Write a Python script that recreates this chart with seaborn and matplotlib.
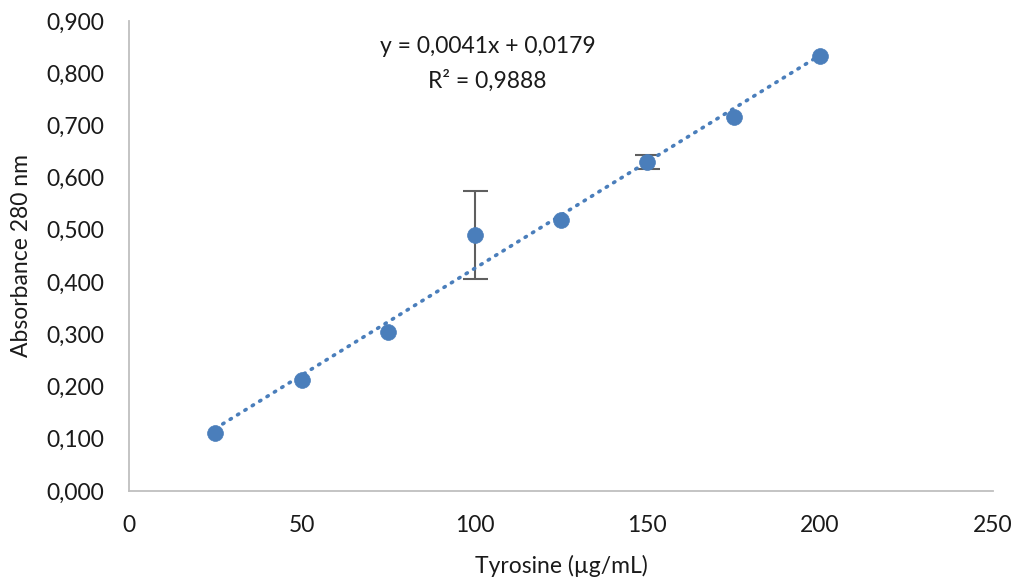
import matplotlib
matplotlib.use("Agg")
import matplotlib.pyplot as plt
import seaborn as sns
import pandas as pd
from matplotlib.ticker import FuncFormatter, MultipleLocator

# Data
tyrosine = [25, 50, 75, 100, 125, 150, 175, 200]
absorbance = [0.111, 0.2126, 0.3045, 0.490, 0.519, 0.630, 0.716, 0.833]
errors = [0.0, 0.0, 0.0, 0.085, 0.0, 0.013, 0.0, 0.0]
equation_text = "y = 0,0041x + 0,0179"
r2_text = "R² = 0,9888"

df = pd.DataFrame({"x": tyrosine, "y": absorbance, "err": errors})

sns.set_theme(style="white")
plt.rcParams['font.family'] = ['Lato', 'DejaVu Sans']

blue = "#4a7ebb"
fs = 16.5
fig = plt.figure(figsize=(10.14, 5.81), dpi=100)
ax = fig.add_axes([0.1272, 0.155, 0.852, 0.809])

# error bars (behind markers), only where there is an error
eb = df[df["err"] > 0]
ax.errorbar(eb["x"], eb["y"], yerr=eb["err"], fmt="none", ecolor="#5f5f5f",
            elinewidth=1.5, capsize=9, capthick=1.5, zorder=2)

# trendline
sns.regplot(data=df, x="x", y="y", ax=ax, scatter=False, ci=None,
            line_kws=dict(color=blue, lw=2.6, ls=(0, (0.4, 2.0)),
                          dash_capstyle="round", zorder=3))

# points
sns.scatterplot(data=df, x="x", y="y", ax=ax, color=blue, s=130,
                edgecolor=blue, linewidth=0.5, zorder=4)

ax.set_xlim(0, 250)
ax.set_ylim(0, 0.9)
ax.xaxis.set_major_locator(MultipleLocator(50))
ax.yaxis.set_major_locator(MultipleLocator(0.1))
ax.yaxis.set_major_formatter(FuncFormatter(lambda v, p: f"{v:.3f}".replace(".", ",")))
ax.xaxis.set_major_formatter(FuncFormatter(lambda v, p: f"{v:.0f}"))

for side in ["top", "right"]:
    ax.spines[side].set_visible(False)
for side in ["left", "bottom"]:
    ax.spines[side].set_color("#bfbfbf")
    ax.spines[side].set_linewidth(1.3)

ax.tick_params(axis="both", length=0, labelsize=fs, colors="#1a1a1a")
ax.tick_params(axis="y", pad=18)
ax.tick_params(axis="x", pad=17)
ax.set_xlabel("Tyrosine (µg/mL)", fontsize=fs, color="#1a1a1a", labelpad=14)
ax.set_ylabel("Absorbance 280 nm", fontsize=fs, color="#1a1a1a", labelpad=10)

ax.text(0.415, 0.909, equation_text + "\n" + r2_text, transform=ax.transAxes,
        ha="center", va="center", fontsize=fs, color="#1a1a1a", linespacing=1.7)

fig.savefig("out.png", dpi=100)
